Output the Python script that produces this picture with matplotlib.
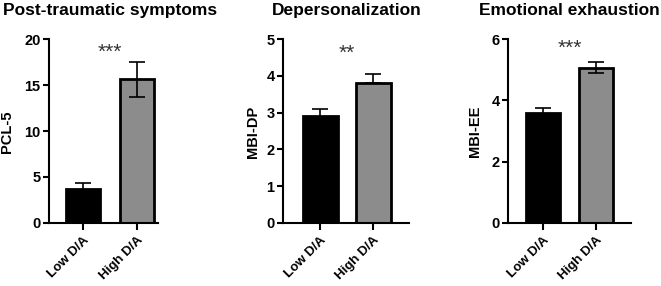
import numpy as np
import matplotlib
matplotlib.use('Agg')
import matplotlib.pyplot as plt

plt.rcParams['font.family'] = ['Liberation Sans', 'DejaVu Sans']
plt.rcParams['font.weight'] = 'bold'

groups = ['Low D/A', 'High D/A']
titles = ['Post-traumatic symptoms', 'Depersonalization', 'Emotional exhaustion']
ylabels = ['PCL-5', 'MBI-DP', 'MBI-EE']
stars = ['***', '**', '***']

means = [[3.7, 15.6], [2.92, 3.8], [3.58, 5.05]]
err_low = [[0.65, 1.85], [0.18, 0.0], [0.18, 0.15]]
err_high = [[0.65, 1.85], [0.18, 0.24], [0.18, 0.2]]
yticks = [[0, 5, 10, 15, 20], [0, 1, 2, 3, 4, 5], [0, 2, 4, 6]]
star_y = [18.6, 4.62, 5.7]

colors = ['black', '#8c8c8c']

# axes boxes (fig fraction)
boxes = [[0.0741, 0.2203, 0.165, 0.6433],
         [0.428, 0.2203, 0.191, 0.6433],
         [0.7685, 0.2203, 0.186, 0.6433]]
xlims = [(-0.63, 1.39), (-0.70, 1.68), (-0.66, 1.66)]
widths = [0.63, 0.66, 0.64]
ylabel_x = [0.0106, 0.383, 0.7186]
title_x = [0.166, 0.525, 0.862]

fig = plt.figure(figsize=(6.61, 2.86), dpi=100)

for i in range(3):
    ax = fig.add_axes(boxes[i])
    x = np.arange(len(groups))
    ax.bar(x, means[i], width=widths[i], color=colors, edgecolor='black',
           linewidth=2, zorder=2)
    ax.errorbar(x, means[i], yerr=[err_low[i], err_high[i]], fmt='none',
                ecolor='black', elinewidth=1.2, capsize=6, capthick=1.2, zorder=3)
    ax.set_xlim(*xlims[i])
    ax.set_ylim(0, yticks[i][-1])
    ax.set_yticks(yticks[i])
    ax.set_xticks(x)
    ax.set_xticklabels(groups, rotation=45, ha='right', rotation_mode='anchor',
                       fontsize=9.5, fontweight='bold')
    for lab in ax.get_yticklabels():
        lab.set_fontsize(10.5)
        lab.set_fontweight('bold')
    ax.spines['top'].set_visible(False)
    ax.spines['right'].set_visible(False)
    ax.spines['left'].set_linewidth(1.5)
    ax.spines['bottom'].set_linewidth(1.5)
    ax.tick_params(axis='y', length=4, width=1.5, pad=2)
    ax.tick_params(axis='x', length=5, width=1.5, pad=3)
    ax.text(0.5, star_y[i], stars[i], ha='center', va='center', fontsize=15,
            color='#333333', fontweight='normal')
    fig.text(ylabel_x[i], 0.54, ylabels[i], rotation=90, ha='center', va='center',
             fontsize=10.5, fontweight='bold')
    fig.text(title_x[i], 0.962, titles[i], ha='center', va='center',
             fontsize=12.5, fontweight='bold')

fig.savefig('out.png', dpi=100)
